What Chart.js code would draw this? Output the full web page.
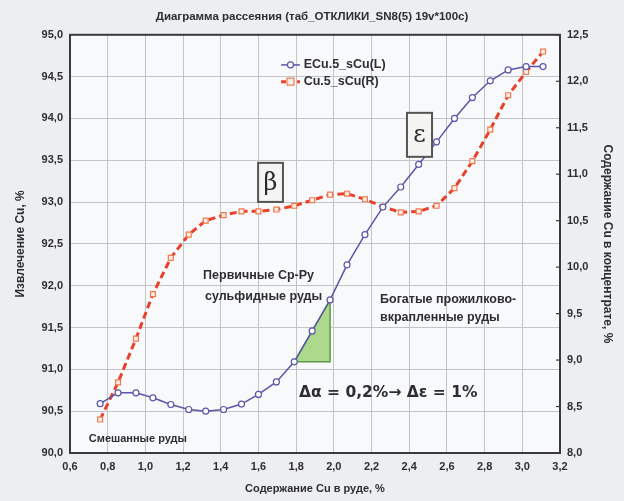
<!DOCTYPE html>
<html><head><meta charset="utf-8">
<script src="https://cdn.jsdelivr.net/npm/chart.js@4.4.1/dist/chart.umd.min.js"></script>
<style>html,body{margin:0;padding:0;background:#eceef0;}#wrap{width:624px;height:501px;}</style>
</head><body><div id="wrap"><canvas id="c" width="624" height="501"></canvas></div>
<script>
// ---- data ----
const titleText = 'Диаграмма рассеяния (таб_ОТКЛИКИ_SN8(5) 19v*100c)';
const xAxisTitle = 'Содержание Cu в руде, %';
const yLeftTitle = 'Извлечение Cu, %';
const yRightTitle = 'Содержание Cu в концентрате, %';
const seriesNames = ['ECu.5_sCu(L)', 'Cu.5_sCu(R)'];
const cuOre = [0.76, 0.855, 0.95, 1.04, 1.135, 1.23, 1.32, 1.415, 1.51, 1.60, 1.695, 1.79, 1.885,
               1.98, 2.07, 2.165, 2.26, 2.355, 2.45, 2.545, 2.64, 2.735, 2.83, 2.925, 3.02, 3.11];
const recovery = [90.59, 90.72, 90.72, 90.66, 90.58, 90.52, 90.50, 90.52, 90.585, 90.70, 90.85, 91.09, 91.46,
                  91.83, 92.25, 92.61, 92.94, 93.18, 93.45, 93.72, 94.00, 94.25, 94.45, 94.58, 94.62, 94.62];
const concentrate = [8.36, 8.76, 9.23, 9.71, 10.10, 10.35, 10.50, 10.56, 10.60, 10.60, 10.62, 10.66, 10.72,
                     10.78, 10.79, 10.73, 10.65, 10.59, 10.60, 10.66, 10.85, 11.14, 11.48, 11.85, 12.10, 12.32];
const xTicks = [0.6, 0.8, 1.0, 1.2, 1.4, 1.6, 1.8, 2.0, 2.2, 2.4, 2.6, 2.8, 3.0, 3.2];
const yLeftTicks = [90.0, 90.5, 91.0, 91.5, 92.0, 92.5, 93.0, 93.5, 94.0, 94.5, 95.0];
const yRightTicks = [8.0, 8.5, 9.0, 9.5, 10.0, 10.5, 11.0, 11.5, 12.0, 12.5];
const noteTexts = ['Первичные Ср-Ру', 'сульфидные руды', 'Богатые прожилково-', 'вкрапленные руды', 'Смешанные руды', 'Δα = 0,2%→ Δε = 1%', 'β', 'ε'];

// ---- styling ----
const FONT = '"Liberation Sans", Arial, sans-serif';
const TXT = '#2e2e30';
const BLUE = '#5a57a8';
const RED = '#e8412b';
const fmt = v => Number(v).toFixed(1).replace('.', ',');

const decor = {
  id: 'decor',
  beforeDraw(chart) {
    const {ctx, chartArea: a} = chart;
    ctx.save();
    ctx.fillStyle = '#f8f9fa';
    ctx.fillRect(a.left, a.top, a.right - a.left, a.bottom - a.top);
    ctx.restore();
  },
  beforeDatasetsDraw(chart) {
    const {ctx, chartArea: a, scales} = chart;
    const X = v => scales.x.getPixelForValue(v), Y = v => scales.y.getPixelForValue(v);
    ctx.save();
    ctx.beginPath();
    ctx.moveTo(X(cuOre[11]), Y(recovery[11]));
    ctx.lineTo(X(cuOre[13]), Y(recovery[13]));
    ctx.lineTo(X(cuOre[13]), Y(recovery[11]));
    ctx.closePath();
    ctx.fillStyle = '#acd98c';
    ctx.fill();
    ctx.strokeStyle = '#5c9a48';
    ctx.lineWidth = 1.5;
    ctx.stroke();
    ctx.strokeStyle = '#3a3a3c';
    ctx.lineWidth = 2;
    ctx.strokeRect(a.left, a.top, a.right - a.left, a.bottom - a.top);
    ctx.lineWidth = 1.2;
    scales.y2.ticks.forEach(t => {
      const py = scales.y2.getPixelForValue(t.value);
      ctx.beginPath(); ctx.moveTo(a.right, py); ctx.lineTo(a.right - 4, py); ctx.stroke();
    });
    ctx.restore();
  },
  afterDatasetsDraw(chart) {
    const {ctx, scales} = chart;
    const X = v => scales.x.getPixelForValue(v), Y = v => scales.y.getPixelForValue(v);
    ctx.save();
    ctx.fillStyle = TXT;
    ctx.textBaseline = 'middle';
    ctx.textAlign = 'left';
    ctx.font = 'bold 12.5px ' + FONT;
    ctx.fillText(noteTexts[0], X(1.306), Y(92.117));
    ctx.fillText(noteTexts[1], X(1.316), Y(91.866));
    ctx.fillText(noteTexts[2], X(2.245), Y(91.83));
    ctx.fillText(noteTexts[3], X(2.245), Y(91.615));
    ctx.font = 'bold 11px ' + FONT;
    ctx.fillText(noteTexts[4], X(0.70), Y(90.167));
    ctx.font = 'bold 15.5px "DejaVu Sans", sans-serif';
    ctx.fillText(noteTexts[5], X(1.815), Y(90.72));
    const box = (x0, x1, y0, y1, t) => {
      const l = X(x0), r = X(x1), tp = Y(y0), bt = Y(y1);
      ctx.fillStyle = '#f4f4f2';
      ctx.fillRect(l, tp, r - l, bt - tp);
      ctx.strokeStyle = '#555';
      ctx.lineWidth = 2;
      ctx.strokeRect(l, tp, r - l, bt - tp);
      ctx.fillStyle = '#2a2a2a';
      ctx.textAlign = 'center';
      ctx.font = '24px "DejaVu Serif", "Liberation Serif", serif';
      ctx.fillText(t, (l + r) / 2, (tp + bt) / 2 + 1);
      ctx.textAlign = 'left';
    };
    box(1.598, 1.730, 93.469, 93.002, noteTexts[6]);
    box(2.388, 2.521, 94.067, 93.541, noteTexts[7]);
    const lx0 = X(1.72), lx1 = X(1.82), tx = X(1.84);
    const ly = [Y(94.64), Y(94.44)];
    ctx.lineWidth = 1.5; ctx.strokeStyle = BLUE; ctx.setLineDash([]);
    ctx.beginPath(); ctx.moveTo(lx0, ly[0]); ctx.lineTo(lx1, ly[0]); ctx.stroke();
    ctx.beginPath(); ctx.arc((lx0 + lx1) / 2, ly[0], 3, 0, Math.PI * 2); ctx.fillStyle = '#fff'; ctx.fill(); ctx.lineWidth = 1.2; ctx.stroke();
    ctx.lineWidth = 3; ctx.strokeStyle = RED; ctx.setLineDash([5, 3]);
    ctx.beginPath(); ctx.moveTo(lx0, ly[1]); ctx.lineTo(lx1, ly[1]); ctx.stroke();
    ctx.setLineDash([]);
    ctx.fillStyle = '#fbeee6'; ctx.strokeStyle = '#ef7a50'; ctx.lineWidth = 1.2;
    ctx.fillRect((lx0 + lx1) / 2 - 3.5, ly[1] - 3.5, 7, 7); ctx.strokeRect((lx0 + lx1) / 2 - 3.5, ly[1] - 3.5, 7, 7);
    ctx.fillStyle = TXT; ctx.font = 'bold 12.5px ' + FONT;
    ctx.fillText(seriesNames[0], tx, ly[0]);
    ctx.fillText(seriesNames[1], tx, ly[1]);
    ctx.restore();
  }
};

const tickFont = {family: FONT, size: 11, weight: 'bold'};
const titleFont = {family: FONT, size: 12, weight: 'bold'};
new Chart(document.getElementById('c'), {
  type: 'scatter',
  data: {
    datasets: [
      {
        label: seriesNames[0], yAxisID: 'y',
        data: cuOre.map((x, i) => ({x, y: recovery[i]})),
        showLine: true, borderColor: BLUE, borderWidth: 1.5,
        pointStyle: 'circle', pointRadius: 3, pointBackgroundColor: '#ffffff',
        pointBorderColor: BLUE, pointBorderWidth: 1.2
      },
      {
        label: seriesNames[1], yAxisID: 'y2',
        data: cuOre.map((x, i) => ({x, y: concentrate[i]})),
        showLine: true, borderColor: RED, borderWidth: 3, borderDash: [7, 4],
        pointStyle: 'rect', pointRadius: 3.5, pointBackgroundColor: '#fbeee6',
        pointBorderColor: '#ef7a50', pointBorderWidth: 1.2
      }
    ]
  },
  options: {
    responsive: false, devicePixelRatio: 1, animation: false,
    layout: {padding: 0},
    plugins: {
      legend: {display: false}, tooltip: {enabled: false},
      title: {display: true, text: titleText, color: TXT,
              font: {family: FONT, size: 11.5, weight: 'bold'}, padding: {top: 10, bottom: 11}}
    },
    scales: {
      x: {
        type: 'linear', min: 0.6, max: 3.2,
        afterBuildTicks: s => { s.ticks = xTicks.map(v => ({value: v})); },
        afterFit: s => { s.height = 48; },
        ticks: {callback: fmt, font: tickFont, color: TXT, padding: 7, maxRotation: 0, autoSkip: false},
        grid: {color: '#c2c4c7', lineWidth: 1, drawTicks: false},
        border: {display: false},
        title: {display: true, text: xAxisTitle, color: TXT, font: {family: FONT, size: 11, weight: 'bold'}, padding: {top: 0, bottom: 5}}
      },
      y: {
        type: 'linear', position: 'left', min: 90, max: 95,
        afterBuildTicks: s => { s.ticks = yLeftTicks.map(v => ({value: v})); },
        afterFit: s => { s.width = 70; },
        ticks: {callback: fmt, font: tickFont, color: TXT, padding: 7, autoSkip: false},
        grid: {color: '#c2c4c7', lineWidth: 1, drawTicks: false},
        border: {display: false},
        title: {display: true, text: yLeftTitle, color: TXT, font: titleFont, padding: {top: 13, bottom: 0}}
      },
      y2: {
        type: 'linear', position: 'right', min: 8, max: 12.5,
        afterBuildTicks: s => { s.ticks = yRightTicks.map(v => ({value: v})); },
        afterFit: s => { s.width = 64; },
        ticks: {callback: fmt, font: tickFont, color: TXT, padding: 7, autoSkip: false},
        grid: {display: false, drawTicks: false},
        border: {display: false},
        title: {display: true, text: yRightTitle, color: TXT, font: titleFont, padding: {top: 9, bottom: 0}}
      }
    }
  },
  plugins: [decor]
});
</script></body></html>
